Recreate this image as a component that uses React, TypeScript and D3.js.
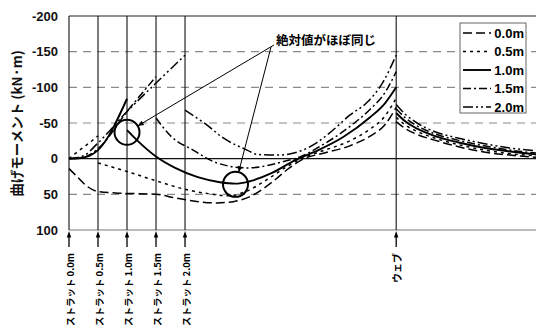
import React from "react";
import * as d3 from "d3";

// Bending moment along the wall for each strut position (x in m, M in kN·m).
// Negative moments are drawn upwards.
type Pt = [number, number];

const seriesNames = ["0.0m", "0.5m", "1.0m", "1.5m", "2.0m"];

const strut00: Pt[][] = [
  [[0, 14], [0.15, 26], [0.3, 38], [0.5, 46], [0.8, 48], [1.5, 50], [1.83, 55], [2.2, 60], [2.55, 62], [2.85, 60], [3.15, 52], [3.5, 33], [3.8, 13], [4.05, 0], [4.35, -7], [4.84, -18], [5.2, -32], [5.45, -48], [5.64, -72]],
  [[5.64, -52], [5.8, -42], [6.0, -34], [6.3, -26], [6.7, -17], [7.1, -10], [7.6, -5], [8.05, -2]],
];

const strut05: Pt[][] = [
  [[0, 0], [0.15, -10], [0.3, -19], [0.5, -32]],
  [[0.5, 6], [1.0, 18], [1.5, 31], [2.0, 43], [2.4, 49], [2.75, 52], [3.05, 46], [3.4, 30], [3.7, 14], [4.0, 0], [4.3, -9], [4.84, -25], [5.2, -42], [5.45, -60], [5.64, -85]],
  [[5.64, -58], [5.8, -47], [6.0, -38], [6.3, -29], [6.7, -20], [7.1, -13], [7.6, -7], [8.05, -4]],
];

const strut10: Pt[][] = [
  [[0, 0], [0.2, -1], [0.35, -4], [0.5, -12], [1.0, -84]],
  [[1.0, -40], [1.17, -26], [1.5, -3], [1.83, 13], [2.22, 26], [2.6, 33], [2.87, 35], [3.1, 32], [3.5, 20], [3.9, 2], [4.3, -12], [4.72, -30], [5.19, -58], [5.45, -78], [5.64, -100]],
  [[5.64, -64], [5.8, -52], [6.0, -42], [6.3, -32], [6.7, -23], [7.1, -16], [7.6, -10], [8.05, -6]],
];

const strut15: Pt[][] = [
  [[0, 0], [0.25, -2], [0.5, -14], [1.0, -66], [1.5, -115]],
  [[1.5, -57], [1.75, -32], [2.14, -12], [2.55, 6], [3.07, 13], [3.4, 10], [3.7, 4], [4.0, -3], [4.3, -16], [4.84, -45], [5.2, -70], [5.45, -93], [5.64, -122]],
  [[5.64, -70], [5.8, -57], [6.0, -46], [6.3, -35], [6.7, -26], [7.1, -19], [7.6, -12], [8.05, -8]],
];

const strut20: Pt[][] = [
  [[0, 0], [0.25, -4], [0.5, -22], [1.0, -66], [1.5, -106], [2.0, -145]],
  [[2.0, -68], [2.38, -47], [2.66, -29], [3.07, -12], [3.24, -6], [3.6, -5], [4.0, -11], [4.28, -23], [4.55, -40], [4.84, -61], [5.14, -79], [5.41, -107], [5.64, -145]],
  [[5.64, -76], [5.8, -62], [6.0, -50], [6.3, -38], [6.7, -29], [7.1, -22], [7.6, -15], [8.05, -11]],
];

const seriesData = [strut00, strut05, strut10, strut15, strut20];
const seriesDash = ["9,4", "3,4", "", "8,3,2,3", "10,3,2,3,2,3"];
const seriesWidth = [1.5, 1.5, 1.9, 1.5, 1.5];

const strutPositions = [0, 0.5, 1.0, 1.5, 2.0];
const strutLabels = ["ストラット 0.0m", "ストラット 0.5m", "ストラット 1.0m", "ストラット 1.5m", "ストラット 2.0m"];
const webPosition = 5.64;
const webLabel = "ウェブ";

const yTicks = [-200, -150, -100, -50, 0, 50, 100];
const yGrid = [-150, -100, -50, 50];

const yTitle = "曲げモーメント (kN·m)";
const noteText = "絶対値がほぼ同じ";
// Highlighted pair of moments (x, M)
const highlights: Pt[] = [[1.0, -37], [2.87, 36]];

const W = 536;
const H = 325;

const x = d3.scaleLinear().domain([0, 8.05]).range([69, 536]);
const y = d3.scaleLinear().domain([-200, 100]).range([16, 230]);

const line = d3
  .line<Pt>()
  .x((d) => x(d[0]))
  .y((d) => y(d[1]))
  .curve(d3.curveMonotoneX);

const latin = "'Liberation Sans', Arial, sans-serif";
const cjk = "'Noto Sans CJK JP', 'Noto Sans', sans-serif";

function UpArrow({ px }: { px: number }) {
  return (
    <g>
      <line x1={px} x2={px} y1={247} y2={236} stroke="#000" strokeWidth={1.3} />
      <path d={`M${px},231 L${px - 2.2},237.5 L${px + 2.2},237.5 Z`} fill="#000" />
    </g>
  );
}

export default function App() {
  const left = x(0);
  const right = x.range()[1];
  const top = y(-200);
  const bottom = y(100);

  const noteX = 276;
  const noteY = 45;
  const circleR = 12.5;

  // Arrow endpoints on each highlight circle, aimed from the note
  const arrowStart: Pt[] = [[274, 45], [271, 47]];
  const arrows = highlights.map((h, i) => {
    const cx = x(h[0]);
    const cy = y(h[1]);
    const [sx, sy] = arrowStart[i];
    const dx = sx - cx;
    const dy = sy - cy;
    const len = Math.hypot(dx, dy);
    const ex = cx + (dx / len) * circleR;
    const ey = cy + (dy / len) * circleR;
    const ux = -dx / len;
    const uy = -dy / len;
    const hl = 6;
    const hw = 2.5;
    const bx = ex - ux * hl;
    const by = ey - uy * hl;
    const head = `M${ex},${ey} L${bx - uy * hw},${by + ux * hw} L${bx + uy * hw},${by - ux * hw} Z`;
    return { sx, sy, ex, ey, head };
  });

  const legendX = 460;
  const legendY = 23;
  const legendRows = [33, 51.5, 70, 88.5, 107];

  return (
    <div style={{ position: "fixed", left: 0, top: 0, width: W, height: H, background: "#fff" }}>
      <svg width={W} height={H} viewBox={`0 0 ${W} ${H}`} style={{ display: "block" }}>
        <rect x={0} y={0} width={W} height={H} fill="#fff" />

        {/* dashed grid */}
        {yGrid.map((v) => (
          <line key={v} x1={left} x2={right} y1={y(v)} y2={y(v)} stroke="#8a8a8a" strokeWidth={1.1} strokeDasharray="8,6" />
        ))}
        <line x1={left} x2={right} y1={y(0)} y2={y(0)} stroke="#111" strokeWidth={1.1} />
        <line x1={left} x2={right} y1={top} y2={top} stroke="#222" strokeWidth={1.1} />
        <line x1={left} x2={right} y1={bottom} y2={bottom} stroke="#777" strokeWidth={1.2} />

        {/* strut and web verticals */}
        {strutPositions.map((p) => (
          <line key={p} x1={x(p)} x2={x(p)} y1={top} y2={bottom} stroke="#111" strokeWidth={1.1} />
        ))}
        <line x1={x(webPosition)} x2={x(webPosition)} y1={top} y2={bottom} stroke="#111" strokeWidth={1.1} />

        {/* y tick labels */}
        {yTicks.map((v) => (
          <text key={v} x={58} y={y(v) + 4.5} textAnchor="end" fontFamily={latin} fontSize={13} fontWeight={700} fill="#111">
            {v}
          </text>
        ))}

        {/* y title */}
        <text
          transform={`translate(22,${123.5}) rotate(-90)`}
          textAnchor="middle"
          fontFamily={cjk}
          fontSize={13.5}
          fontWeight={700}
          fill="#111"
        >
          {yTitle}
        </text>

        {/* moment curves */}
        {seriesData.map((segs, i) =>
          segs.map((seg, j) => (
            <path
              key={`${i}-${j}`}
              d={line(seg) || ""}
              fill="none"
              stroke="#000"
              strokeWidth={seriesWidth[i]}
              strokeDasharray={seriesDash[i] || undefined}
            />
          ))
        )}

        {/* highlight circles and note */}
        {highlights.map((h, i) => (
          <circle key={i} cx={x(h[0])} cy={y(h[1])} r={circleR} fill="none" stroke="#000" strokeWidth={2} />
        ))}
        {arrows.map((a, i) => (
          <g key={i}>
            <line x1={a.sx} y1={a.sy} x2={a.ex} y2={a.ey} stroke="#000" strokeWidth={1} />
            <path d={a.head} fill="#000" />
          </g>
        ))}
        <text x={noteX} y={noteY} fontFamily={cjk} fontSize={12.5} fontWeight={700} fill="#000">
          {noteText}
        </text>

        {/* legend */}
        <rect x={legendX} y={legendY} width={66} height={90} fill="#fff" stroke="#666" strokeWidth={1} />
        {seriesNames.map((name, i) => (
          <g key={name}>
            <line
              x1={legendX + 3}
              x2={legendX + 31}
              y1={legendRows[i]}
              y2={legendRows[i]}
              stroke="#000"
              strokeWidth={seriesWidth[i]}
              strokeDasharray={seriesDash[i] || undefined}
            />
            <text x={legendX + 64} y={legendRows[i] + 4.5} textAnchor="end" fontFamily={latin} fontSize={13} fontWeight={700} fill="#000">
              {name}
            </text>
          </g>
        ))}

        {/* strut markers and labels below the axis */}
        {strutPositions.map((p, i) => (
          <g key={p}>
            <UpArrow px={x(p)} />
            <text
              transform={`translate(${x(p) + 4.5},253) rotate(-90)`}
              textAnchor="end"
              fontFamily={cjk}
              fontSize={9.5}
              fontWeight={700}
              fill="#000"
            >
              {strutLabels[i]}
            </text>
          </g>
        ))}
        <UpArrow px={x(webPosition)} />
        <text
          transform={`translate(${x(webPosition) + 4.5},253) rotate(-90)`}
          textAnchor="end"
          fontFamily={cjk}
          fontSize={10}
          fontWeight={700}
          fill="#000"
        >
          {webLabel}
        </text>
      </svg>
    </div>
  );
}
